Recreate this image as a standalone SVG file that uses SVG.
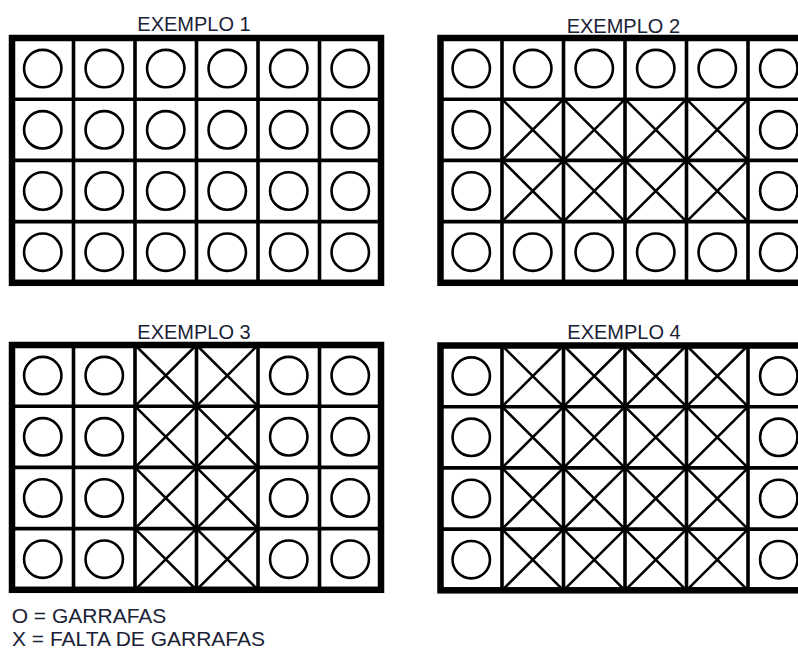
<svg xmlns="http://www.w3.org/2000/svg" xmlns:xlink="http://www.w3.org/1999/xlink" width="798" height="651" viewBox="0 0 798 651">
<style>
.lbl{font-family:"Liberation Sans",Arial,sans-serif;font-size:20px;fill:#1b2236}
.leg{font-family:"Liberation Sans",Arial,sans-serif;font-size:21px;fill:#1b2236}
.o{fill:none;stroke:#000;stroke-width:2.6}
.x{fill:none;stroke:#000;stroke-width:2.6}
.in{stroke:#000;stroke-width:3.6;fill:none}
.out{stroke:#000;stroke-width:6.5;fill:none}
</style>
<defs>
<circle id="o" class="o" r="18.7"/>
<path id="x" class="x" d="M-30.75,-30.6 L30.75,30.6 M30.75,-30.6 L-30.75,30.6"/>
<g id="frame">
<path class="in" d="M61.5,0V244.8M123,0V244.8M184.5,0V244.8M246,0V244.8M307.5,0V244.8M0,61.2H369M0,122.4H369M0,183.6H369"/>
<rect class="out" x="0" y="0" width="369" height="244.8"/>
</g>
</defs>
<rect width="798" height="651" fill="#fff"/>

<g id="exemplo1" transform="translate(12,38)">
<use href="#o" x="30.75" y="30.6"/><use href="#o" x="92.25" y="30.6"/><use href="#o" x="153.75" y="30.6"/><use href="#o" x="215.25" y="30.6"/><use href="#o" x="276.75" y="30.6"/><use href="#o" x="338.25" y="30.6"/>
<use href="#o" x="30.75" y="91.8"/><use href="#o" x="92.25" y="91.8"/><use href="#o" x="153.75" y="91.8"/><use href="#o" x="215.25" y="91.8"/><use href="#o" x="276.75" y="91.8"/><use href="#o" x="338.25" y="91.8"/>
<use href="#o" x="30.75" y="153"/><use href="#o" x="92.25" y="153"/><use href="#o" x="153.75" y="153"/><use href="#o" x="215.25" y="153"/><use href="#o" x="276.75" y="153"/><use href="#o" x="338.25" y="153"/>
<use href="#o" x="30.75" y="214.2"/><use href="#o" x="92.25" y="214.2"/><use href="#o" x="153.75" y="214.2"/><use href="#o" x="215.25" y="214.2"/><use href="#o" x="276.75" y="214.2"/><use href="#o" x="338.25" y="214.2"/>
<use href="#frame"/>
</g>

<g id="exemplo2" transform="translate(440.5,38)">
<use href="#o" x="30.75" y="30.6"/><use href="#o" x="92.25" y="30.6"/><use href="#o" x="153.75" y="30.6"/><use href="#o" x="215.25" y="30.6"/><use href="#o" x="276.75" y="30.6"/><use href="#o" x="338.25" y="30.6"/>
<use href="#o" x="30.75" y="91.8"/><use href="#x" x="92.25" y="91.8"/><use href="#x" x="153.75" y="91.8"/><use href="#x" x="215.25" y="91.8"/><use href="#x" x="276.75" y="91.8"/><use href="#o" x="338.25" y="91.8"/>
<use href="#o" x="30.75" y="153"/><use href="#x" x="92.25" y="153"/><use href="#x" x="153.75" y="153"/><use href="#x" x="215.25" y="153"/><use href="#x" x="276.75" y="153"/><use href="#o" x="338.25" y="153"/>
<use href="#o" x="30.75" y="214.2"/><use href="#o" x="92.25" y="214.2"/><use href="#o" x="153.75" y="214.2"/><use href="#o" x="215.25" y="214.2"/><use href="#o" x="276.75" y="214.2"/><use href="#o" x="338.25" y="214.2"/>
<use href="#frame"/>
</g>

<g id="exemplo3" transform="translate(12,345)">
<use href="#o" x="30.75" y="30.6"/><use href="#o" x="92.25" y="30.6"/><use href="#x" x="153.75" y="30.6"/><use href="#x" x="215.25" y="30.6"/><use href="#o" x="276.75" y="30.6"/><use href="#o" x="338.25" y="30.6"/>
<use href="#o" x="30.75" y="91.8"/><use href="#o" x="92.25" y="91.8"/><use href="#x" x="153.75" y="91.8"/><use href="#x" x="215.25" y="91.8"/><use href="#o" x="276.75" y="91.8"/><use href="#o" x="338.25" y="91.8"/>
<use href="#o" x="30.75" y="153"/><use href="#o" x="92.25" y="153"/><use href="#x" x="153.75" y="153"/><use href="#x" x="215.25" y="153"/><use href="#o" x="276.75" y="153"/><use href="#o" x="338.25" y="153"/>
<use href="#o" x="30.75" y="214.2"/><use href="#o" x="92.25" y="214.2"/><use href="#x" x="153.75" y="214.2"/><use href="#x" x="215.25" y="214.2"/><use href="#o" x="276.75" y="214.2"/><use href="#o" x="338.25" y="214.2"/>
<use href="#frame"/>
</g>

<g id="exemplo4" transform="translate(440.5,345.5)">
<use href="#o" x="30.75" y="30.6"/><use href="#x" x="92.25" y="30.6"/><use href="#x" x="153.75" y="30.6"/><use href="#x" x="215.25" y="30.6"/><use href="#x" x="276.75" y="30.6"/><use href="#o" x="338.25" y="30.6"/>
<use href="#o" x="30.75" y="91.8"/><use href="#x" x="92.25" y="91.8"/><use href="#x" x="153.75" y="91.8"/><use href="#x" x="215.25" y="91.8"/><use href="#x" x="276.75" y="91.8"/><use href="#o" x="338.25" y="91.8"/>
<use href="#o" x="30.75" y="153"/><use href="#x" x="92.25" y="153"/><use href="#x" x="153.75" y="153"/><use href="#x" x="215.25" y="153"/><use href="#x" x="276.75" y="153"/><use href="#o" x="338.25" y="153"/>
<use href="#o" x="30.75" y="214.2"/><use href="#x" x="92.25" y="214.2"/><use href="#x" x="153.75" y="214.2"/><use href="#x" x="215.25" y="214.2"/><use href="#x" x="276.75" y="214.2"/><use href="#o" x="338.25" y="214.2"/>
<use href="#frame"/>
</g>

<g id="labels">
<text class="lbl" x="137.3" y="31">EXEMPLO 1</text>
<text class="lbl" x="566.7" y="33.3">EXEMPLO 2</text>
<text class="lbl" x="137.3" y="339.3">EXEMPLO 3</text>
<text class="lbl" x="567.3" y="339.3">EXEMPLO 4</text>
</g>
<g id="legend">
<text class="leg" x="11.7" y="623">O = GARRAFAS</text>
<text class="leg" x="12" y="646">X = FALTA DE GARRAFAS</text>
</g>
</svg>
